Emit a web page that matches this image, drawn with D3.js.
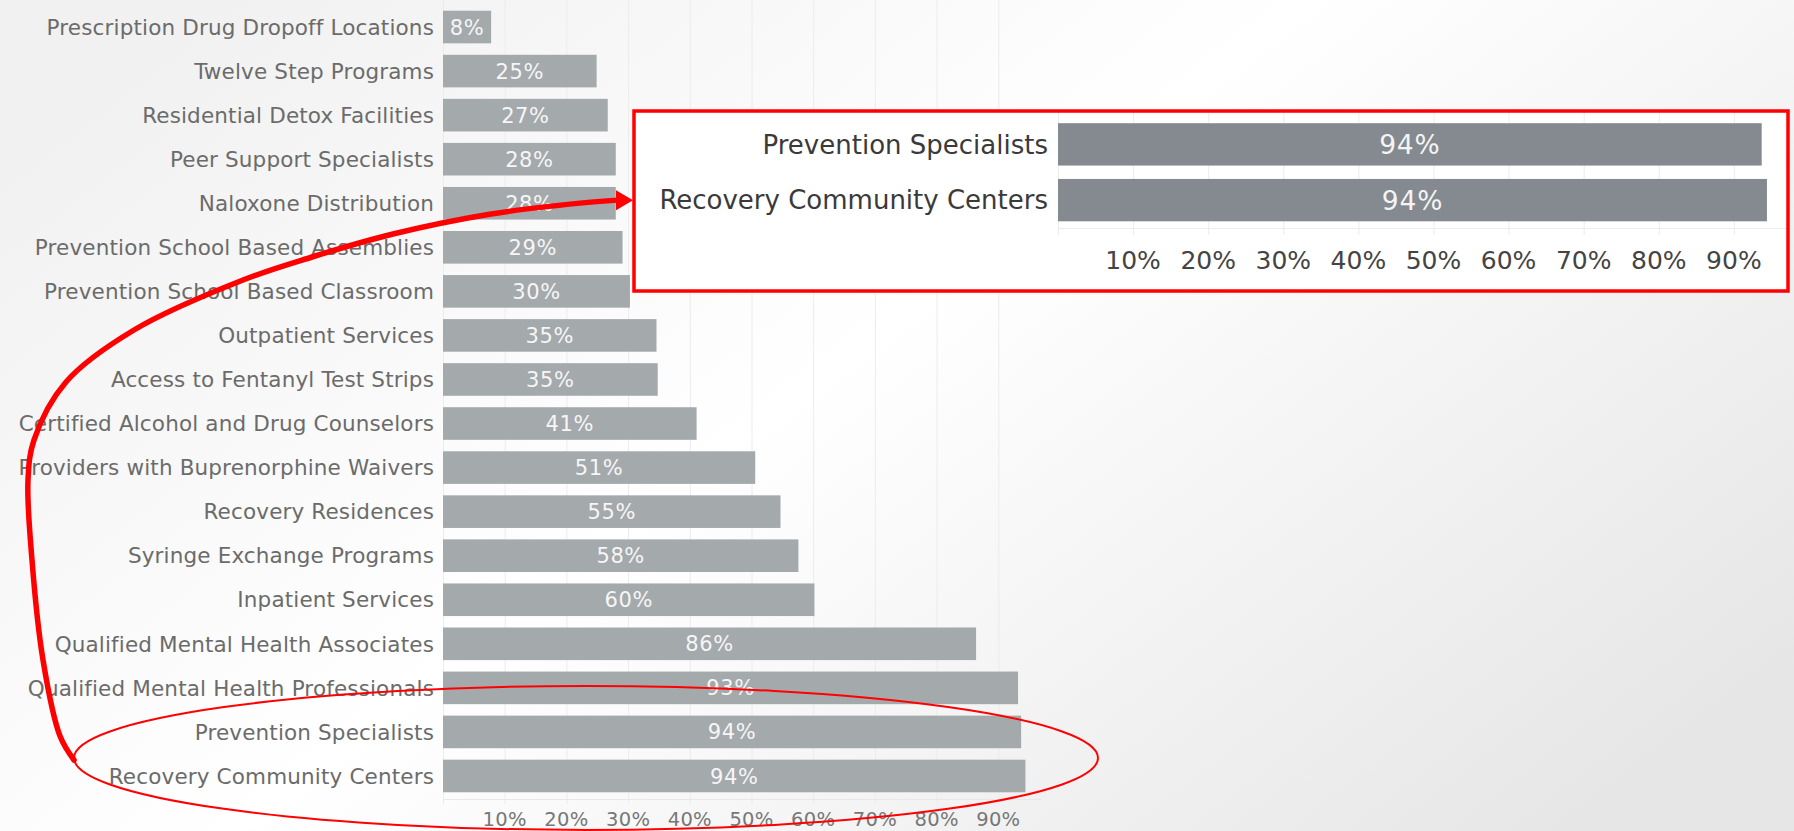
<!DOCTYPE html>
<html>
<head>
<meta charset="utf-8">
<script src="https://cdn.jsdelivr.net/npm/d3@7"></script>
<style>
  html, body { margin: 0; padding: 0; overflow: hidden; }
  svg { display: block; font-family: "DejaVu Sans", sans-serif; }
</style>
</head>
<body>
<svg id="chart"></svg>
<script>
// data (share of respondents, %)
var services = ["Prescription Drug Dropoff Locations", "Twelve Step Programs", "Residential Detox Facilities",
  "Peer Support Specialists", "Naloxone Distribution", "Prevention School Based Assemblies",
  "Prevention School Based Classroom", "Outpatient Services", "Access to Fentanyl Test Strips",
  "Certified Alcohol and Drug Counselors", "Providers with Buprenorphine Waivers", "Recovery Residences",
  "Syringe Exchange Programs", "Inpatient Services", "Qualified Mental Health Associates",
  "Qualified Mental Health Professionals", "Prevention Specialists", "Recovery Community Centers"];
var shares = [7.8, 24.9, 26.7, 28.0, 28.0, 29.1, 30.3, 34.6, 34.8, 41.1, 50.6, 54.7, 57.6, 60.2, 86.4, 93.2, 93.7, 94.4];
var tickVals = [10, 20, 30, 40, 50, 60, 70, 80, 90];
var highlighted = ["Prevention Specialists", "Recovery Community Centers"];

var W = 1794, H = 831;
var pct = function(v) { return Math.round(v) + "%"; };

var rows = services.map(function(s, i) { return {name: s, value: shares[i]}; });
var zoomRows = rows.filter(function(d) { return highlighted.indexOf(d.name) >= 0; });

var svg = d3.select("#chart").attr("width", W).attr("height", H);

// soft grey-white backdrop
var defs = svg.append("defs");
var bg = defs.append("linearGradient").attr("id", "bg")
    .attr("x1", 0).attr("y1", 0.2).attr("x2", 1).attr("y2", 0.8);
bg.append("stop").attr("offset", "0%").attr("stop-color", "#f1f1f1");
bg.append("stop").attr("offset", "45%").attr("stop-color", "#ffffff");
bg.append("stop").attr("offset", "100%").attr("stop-color", "#e6e6e6");
svg.append("rect").attr("width", W).attr("height", H).attr("fill", "url(#bg)");

// ---------- main bar chart ----------
var x = d3.scaleLinear().domain([0, 100]).range([443, 1060]);
var y = d3.scaleBand().domain(services).range([5, 798]).paddingInner(0.26).paddingOuter(0.13);

var gm = svg.append("g").attr("class", "main");

gm.selectAll("line.grid").data([0].concat(tickVals)).enter().append("line")
    .attr("class", "grid")
    .attr("x1", function(d) { return x(d) + 0.5; }).attr("x2", function(d) { return x(d) + 0.5; })
    .attr("y1", 0).attr("y2", 804)
    .attr("stroke", "#ececec").attr("stroke-width", 1);
gm.append("line").attr("x1", x(0)).attr("x2", x(97)).attr("y1", 799.5).attr("y2", 799.5)
    .attr("stroke", "#e8e8e8");

gm.selectAll("rect.bar").data(rows).enter().append("rect")
    .attr("class", "bar")
    .attr("x", x(0))
    .attr("y", function(d) { return y(d.name); })
    .attr("width", function(d) { return x(d.value) - x(0); })
    .attr("height", y.bandwidth())
    .attr("fill", "#a4a9ac");

gm.selectAll("text.val").data(rows).enter().append("text")
    .attr("class", "val")
    .attr("x", function(d) { return (x(0) + x(d.value)) / 2; })
    .attr("y", function(d) { return y(d.name) + y.bandwidth() / 2; })
    .attr("dy", "0.36em")
    .attr("text-anchor", "middle")
    .attr("font-size", 21)
    .attr("letter-spacing", 0.6)
    .attr("fill", "#f6f6f6")
    .text(function(d) { return pct(d.value); });

gm.selectAll("text.cat").data(rows).enter().append("text")
    .attr("class", "cat")
    .attr("x", x(0) - 9)
    .attr("y", function(d) { return y(d.name) + y.bandwidth() / 2; })
    .attr("dy", "0.36em")
    .attr("text-anchor", "end")
    .attr("font-size", 21.5)
    .attr("letter-spacing", 0.15)
    .attr("fill", "#6b6b6b")
    .text(function(d) { return d.name; });

gm.selectAll("text.tick").data(tickVals).enter().append("text")
    .attr("class", "tick")
    .attr("x", function(d) { return x(d); })
    .attr("y", 825.5)
    .attr("text-anchor", "middle")
    .attr("font-size", 19.5)
    .attr("letter-spacing", 0.3)
    .attr("fill", "#777")
    .text(function(d) { return d + "%"; });

// ---------- zoomed inset ----------
var box = {x: 634, y: 111, w: 1154, h: 180};
var gz = svg.append("g").attr("class", "inset");
gz.append("rect").attr("x", box.x).attr("y", box.y).attr("width", box.w).attr("height", box.h)
    .attr("fill", "#fff");

var xz = d3.scaleLinear().domain([0, 100]).range([1058, 1809]);
var yz = d3.scaleBand().domain(highlighted).range([116.5, 228]).paddingInner(0.24).paddingOuter(0.12);

gz.selectAll("line.grid").data([0].concat(tickVals)).enter().append("line")
    .attr("x1", function(d) { return xz(d) + 0.5; }).attr("x2", function(d) { return xz(d) + 0.5; })
    .attr("y1", box.y).attr("y2", 235)
    .attr("stroke", "#ececec");
gz.append("line").attr("x1", xz(0)).attr("x2", xz(97)).attr("y1", 228.5).attr("y2", 228.5)
    .attr("stroke", "#ececec");

gz.selectAll("rect.bar").data(zoomRows).enter().append("rect")
    .attr("x", xz(0))
    .attr("y", function(d) { return yz(d.name); })
    .attr("width", function(d) { return xz(d.value) - xz(0); })
    .attr("height", yz.bandwidth())
    .attr("fill", "#848a90");

gz.selectAll("text.val").data(zoomRows).enter().append("text")
    .attr("x", function(d) { return (xz(0) + xz(d.value)) / 2; })
    .attr("y", function(d) { return yz(d.name) + yz.bandwidth() / 2; })
    .attr("dy", "0.36em")
    .attr("text-anchor", "middle")
    .attr("font-size", 26.5)
    .attr("letter-spacing", 0.8)
    .attr("fill", "#f4f4f4")
    .text(function(d) { return pct(d.value); });

gz.selectAll("text.cat").data(zoomRows).enter().append("text")
    .attr("x", xz(0) - 10)
    .attr("y", function(d) { return yz(d.name) + yz.bandwidth() / 2; })
    .attr("dy", "0.36em")
    .attr("text-anchor", "end")
    .attr("font-size", 26)
    .attr("fill", "#3a3a3a")
    .text(function(d) { return d.name; });

gz.selectAll("text.tick").data(tickVals).enter().append("text")
    .attr("x", function(d) { return xz(d); })
    .attr("y", 269)
    .attr("text-anchor", "middle")
    .attr("font-size", 25)
    .attr("fill", "#444")
    .text(function(d) { return d + "%"; });

gz.append("rect").attr("x", box.x).attr("y", box.y).attr("width", box.w).attr("height", box.h)
    .attr("fill", "none").attr("stroke", "#ff0000").attr("stroke-width", 3.5);

// ---------- annotation: ellipse + arrow ----------
var lastTwoMid = (y(highlighted[0]) + y(highlighted[1]) + y.bandwidth()) / 2;
svg.append("ellipse")
    .attr("cx", 586).attr("cy", lastTwoMid + 4)
    .attr("rx", 512).attr("ry", 72)
    .attr("fill", "none").attr("stroke", "#ff0000").attr("stroke-width", 2);

var arrowY = yz(highlighted[1]) + yz.bandwidth() / 2;
var arrowPts = [[74, 760], [60, 736], [43, 660], [32, 560], [28, 480], [34, 440], [66, 382],
  [134, 330], [243, 280], [312, 257], [393, 234], [491, 214], [580, arrowY + 3], [618, arrowY]];
svg.append("path")
    .attr("d", d3.line().curve(d3.curveCatmullRom)(arrowPts))
    .attr("fill", "none").attr("stroke", "#ff0000").attr("stroke-width", 5.5)
    .attr("stroke-linecap", "round");
svg.append("path")
    .attr("d", d3.line()([[box.x - 1, arrowY], [box.x - 18, arrowY - 10], [box.x - 18, arrowY + 10]]) + "Z")
    .attr("fill", "#ff0000");
</script>
</body>
</html>
